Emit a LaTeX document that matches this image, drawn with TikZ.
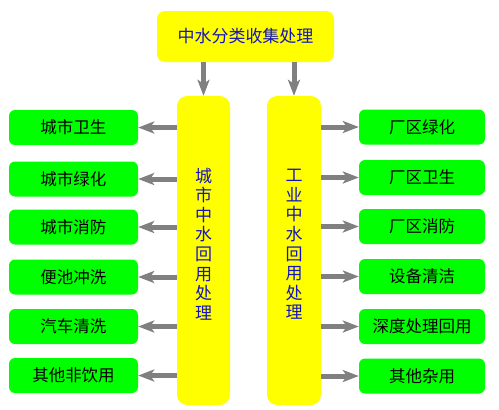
\documentclass[tikz,border=0pt]{standalone}
\usepackage{fontspec}
\newfontfamily\cjk{Noto Sans CJK SC}
\usetikzlibrary{arrows.meta}
\definecolor{ybox}{RGB}{255,255,0}
\definecolor{gbox}{RGB}{0,255,0}
\definecolor{btext}{RGB}{20,20,190}
\definecolor{arrgray}{RGB}{128,128,128}
\tikzset{
  greenbox/.style={draw=none,fill=gbox,rounded corners=6pt,minimum width=#1,minimum height=35pt,inner sep=0pt,font=\cjk\fontsize{16.5}{18}\selectfont,text=black},
  yellowbox/.style={draw=none,fill=ybox,rounded corners=10pt,inner sep=0pt},
  vtext/.style={align=center,font=\cjk\fontsize{17}{19.6}\selectfont,text=btext,inner sep=0pt},
  arr/.style={draw=arrgray,line width=5pt,-{Stealth[length=16pt,width=12pt,inset=4pt]}},
}
\begin{document}
\begin{tikzpicture}[x=1pt,y=-1pt]
\useasboundingbox[fill=white] (0,0) rectangle (499,410);
\node[yellowbox,rounded corners=8pt,minimum width=177pt,minimum height=51pt,font=\cjk\fontsize{17}{20}\selectfont,text=btext] (top) at (245.5,36.5) {中水分类收集处理};
\node[yellowbox,minimum width=53pt,minimum height=309pt] (lv) at (203.5,250.5) {};
\node[yellowbox,minimum width=54pt,minimum height=309pt] (rv) at (294,250.5) {};
\node[vtext] (lvt) at (203.5,244) {城\\市\\中\\水\\回\\用\\处\\理};
\node[vtext] (rvt) at (294,244.5) {工\\业\\中\\水\\回\\用\\处\\理};
\node[greenbox=129pt] (l1) at (73.5,127.5) {城市卫生};
\node[greenbox=129pt] (l2) at (73.5,179) {城市绿化};
\node[greenbox=129pt] (l3) at (73.5,227) {城市消防};
\node[greenbox=129pt] (l4) at (73.5,277) {便池冲洗};
\node[greenbox=129pt] (l5) at (73.5,326.5) {汽车清洗};
\node[greenbox=129pt] (l6) at (73.5,375.5) {其他非饮用};
\node[greenbox=126pt] (r1) at (422,127) {厂区绿化};
\node[greenbox=126pt] (r2) at (422,177.5) {厂区卫生};
\node[greenbox=126pt] (r3) at (422,226.5) {厂区消防};
\node[greenbox=126pt] (r4) at (422,276.5) {设备清洁};
\node[greenbox=126pt] (r5) at (422,326.5) {深度处理回用};
\node[greenbox=126pt] (r6) at (422,376) {其他杂用};
\draw[arr] (top.south -| lv.north) -- (lv.north);
\draw[arr] (top.south -| rv.north) -- (rv.north);
\foreach \i in {1,...,6}{
  \draw[arr] (lv.west |- l\i) -- (l\i.east);
  \draw[arr] (rv.east |- r\i) -- (r\i.west);
}
\end{tikzpicture}
\end{document}
